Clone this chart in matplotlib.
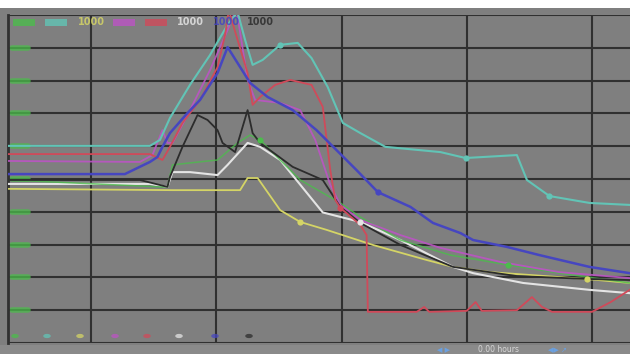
import matplotlib
matplotlib.use("Agg")
import matplotlib.pyplot as plt
from matplotlib.patches import Rectangle

# ------------------------------- series (hours, divisions) ---------------------------------#

cyan_x = [-0.66, 0.47, 0.55, 0.63, 0.79, 0.95, 1.09, 1.17, 1.23, 1.29, 1.37, 1.51, 1.65,
          1.76, 1.89, 2.01, 2.15, 2.35, 2.79, 2.99, 3.40, 3.48, 3.66, 3.98, 4.30]
cyan_y = [6.01, 6.01, 6.19, 6.86, 7.87, 8.78, 9.70, 10.09, 9.24, 8.48, 8.63, 9.09, 9.15,
          8.69, 7.80, 6.71, 6.40, 5.98, 5.82, 5.64, 5.73, 4.97, 4.48, 4.27, 4.21]

blue_x = [-0.66, 0.27, 0.47, 0.53, 0.57, 0.63, 0.77, 0.87, 1.01, 1.09, 1.27, 1.41, 1.61,
          1.80, 1.96, 2.12, 2.29, 2.55, 2.73, 2.95, 3.05, 3.32, 3.58, 3.98, 4.30]
blue_y = [5.15, 5.15, 5.52, 5.67, 5.98, 6.40, 7.01, 7.41, 8.23, 9.02, 7.93, 7.50, 7.10,
          6.49, 5.88, 5.27, 4.60, 4.15, 3.66, 3.35, 3.14, 2.93, 2.68, 2.32, 2.13]

magenta_x = [-0.66, 0.39, 0.49, 0.57, 0.61, 0.65, 0.77, 0.95, 1.09, 1.16, 1.25, 1.31, 1.51,
             1.67, 1.79, 1.91, 1.99, 2.15, 2.47, 2.79, 3.27, 3.74, 4.30]
magenta_y = [5.55, 5.52, 5.73, 6.49, 6.10, 6.10, 6.95, 8.32, 9.54, 10.2, 8.02, 7.41, 7.32,
             7.10, 6.19, 4.82, 4.21, 3.75, 3.29, 2.90, 2.47, 2.16, 1.98]

red_x = [-0.66, 0.47, 0.57, 0.63, 0.73, 0.87, 1.01, 1.07, 1.10, 1.17, 1.25, 1.29, 1.35,
         1.47, 1.59, 1.76, 1.85, 1.91, 1.95, 1.99, 2.15, 2.20, 2.21, 2.60, 2.66, 2.70,
         3.00, 3.07, 3.12, 3.40, 3.52, 3.60, 3.68, 4.00, 4.15, 4.30]
red_y = [5.76, 5.76, 5.58, 5.98, 6.71, 7.41, 8.41, 9.39, 10.15, 9.24, 8.23, 7.26, 7.50,
         7.87, 8.02, 7.87, 7.20, 5.27, 4.36, 4.12, 3.60, 3.29, 0.95, 0.95, 1.10, 0.95,
         0.98, 1.25, 0.98, 1.00, 1.40, 1.10, 0.95, 0.95, 1.25, 1.62]

black_x = [-0.66, 0.39, 0.61, 0.63, 0.73, 0.85, 0.93, 1.01, 1.05, 1.15, 1.25, 1.29, 1.35,
           1.61, 1.85, 1.99, 2.15, 2.47, 2.89, 3.40, 3.98, 4.30]
black_y = [4.97, 4.97, 4.76, 5.06, 5.98, 6.95, 6.80, 6.49, 6.10, 5.82, 7.10, 6.40, 6.10,
           5.37, 4.97, 4.15, 3.66, 2.99, 2.32, 2.04, 1.95, 1.92]

green_x = [-0.66, 0.55, 0.61, 0.65, 0.79, 1.01, 1.17, 1.27, 1.35, 1.67, 1.99, 2.15, 2.47,
           2.87, 3.33, 3.74, 4.30]
green_y = [4.97, 4.76, 4.76, 5.43, 5.49, 5.58, 6.10, 6.34, 6.19, 4.97, 4.27, 3.84, 3.14,
           2.68, 2.38, 2.13, 1.83]

white_x = [-0.66, 0.47, 0.61, 0.65, 0.79, 1.01, 1.09, 1.25, 1.35, 1.51, 1.85, 2.15, 2.47,
           2.89, 3.05, 3.45, 3.98, 4.30]
white_y = [4.85, 4.85, 4.76, 5.21, 5.21, 5.12, 5.43, 6.10, 5.98, 5.58, 3.98, 3.69, 3.14,
           2.32, 2.13, 1.83, 1.62, 1.52]

yellow_x = [-0.66, 0.65, 1.19, 1.25, 1.33, 1.51, 1.67, 1.88, 2.25, 2.68, 2.89, 3.19, 3.96, 4.30]
yellow_y = [4.70, 4.66, 4.66, 5.03, 5.03, 4.05, 3.69, 3.45, 2.99, 2.53, 2.32, 2.16, 1.95, 1.83]

# cursor dots sitting on the traces
cyan_dots_x = [1.51, 2.99, 3.66]
cyan_dots_y = [9.09, 5.64, 4.48]
green_dots_x = [1.35, 3.33]
green_dots_y = [6.19, 2.38]
yellow_dots_x = [1.67, 3.96]
yellow_dots_y = [3.69, 1.95]
blue_dots_x = [2.29]
blue_dots_y = [4.60]
red_dots_x = [1.99]
red_dots_y = [4.12]
white_dots_x = [2.15]
white_dots_y = [3.69]

channel_labels = ["", "", "1000", "", "", "1000", "1000", "1000"]
channel_colors = ["#4cbc4c", "#62c4b6", "#d4d466", "#bc54c4",
                  "#d04a5a", "#e4e4e4", "#4646c0", "#2c2c2c"]

# ------------------------------- drawing ---------------------------------#

W, H = 630, 354
BG = "#7f7f7f"
GRID = "#303030"

fig = plt.figure(figsize=(W / 100, H / 100), dpi=100, facecolor=BG)
fig.patches.append(Rectangle((0, 1 - 8 / H), 1, 8 / H, transform=fig.transFigure,
                             facecolor="white", edgecolor="none", zorder=0))

ax = fig.add_axes([8 / W, (H - 343) / H, 622 / W, (343 - 15) / H])
ax.set_facecolor(BG)
ax.set_xlim(-0.663, 4.303)
ax.set_ylim(0, 10)
for s in ["top", "right", "bottom"]:
    ax.spines[s].set_visible(False)
ax.spines["left"].set_color(GRID)
ax.spines["left"].set_linewidth(2)
ax.set_xticks([])
ax.set_yticks([])

for xv in range(0, 5):
    ax.axvline(xv, color=GRID, lw=1.5, zorder=1)
for yv in range(0, 11):
    ax.axhline(yv, color=GRID, lw=1.5, zorder=1)

# green division marks on the left edge
for yv in range(1, 10):
    ax.plot([-0.63, -0.50], [yv, yv], color="#4cbc4c", lw=4, alpha=0.75,
            solid_capstyle="round", zorder=2)

ax.plot(yellow_x, yellow_y, color=channel_colors[2], lw=1.3, zorder=3)
ax.plot(white_x, white_y, color=channel_colors[5], lw=1.5, zorder=3)
ax.plot(green_x, green_y, color=channel_colors[0], lw=1.1, alpha=0.8, zorder=3)
ax.plot(black_x, black_y, color=channel_colors[7], lw=1.3, zorder=4)
ax.plot(magenta_x, magenta_y, color=channel_colors[3], lw=1.3, alpha=0.9, zorder=3)
ax.plot(red_x, red_y, color=channel_colors[4], lw=1.3, zorder=4)
ax.plot(cyan_x, cyan_y, color=channel_colors[1], lw=1.5, zorder=3)
ax.plot(blue_x, blue_y, color=channel_colors[6], lw=1.8, zorder=4)

dots = [(cyan_dots_x, cyan_dots_y, 1), (green_dots_x, green_dots_y, 0),
        (yellow_dots_x, yellow_dots_y, 2), (blue_dots_x, blue_dots_y, 6),
        (red_dots_x, red_dots_y, 4), (white_dots_x, white_dots_y, 5)]
for dx, dy, ci in dots:
    ax.plot(dx, dy, "o", color=channel_colors[ci], ms=4.5, mec="none", zorder=5)

# channel chips along the top and dots along the bottom
chip_px = [13, 45, 78, 113, 145, 177, 213, 247]
for px, lab, col in zip(chip_px, channel_labels, channel_colors):
    if lab:
        fig.text(px / W, 1 - 22 / H, lab, color=col, fontsize=7, fontweight="bold",
                 va="center", ha="left", alpha=0.85)
    else:
        fig.patches.append(Rectangle((px / W, 1 - 26 / H), 22 / W, 7 / H,
                                     transform=fig.transFigure, facecolor=col,
                                     edgecolor="none", alpha=0.8, zorder=5))
    fig.patches.append(plt.Circle(((px + 2) / W, 1 - 336 / H), 0.006,
                                  transform=fig.transFigure, facecolor=col,
                                  edgecolor="none", alpha=0.75, zorder=5))

# status strip
fig.patches.append(Rectangle((0, 0), 1, (H - 345) / H, transform=fig.transFigure,
                             facecolor="#8a8a8a", edgecolor="none", zorder=0))
fig.text(437 / W, 4 / H, "\u25c0 \u25b6", color="#6aa0e0", fontsize=5, va="center")
fig.text(478 / W, 4 / H, "0.00 hours", color="#d8d8d8", fontsize=5.5, va="center")
fig.text(548 / W, 4 / H, "\u25c0\u25b6 \u2197", color="#6aa0e0", fontsize=5, va="center")

fig.savefig("out.png", dpi=100, facecolor=BG)
